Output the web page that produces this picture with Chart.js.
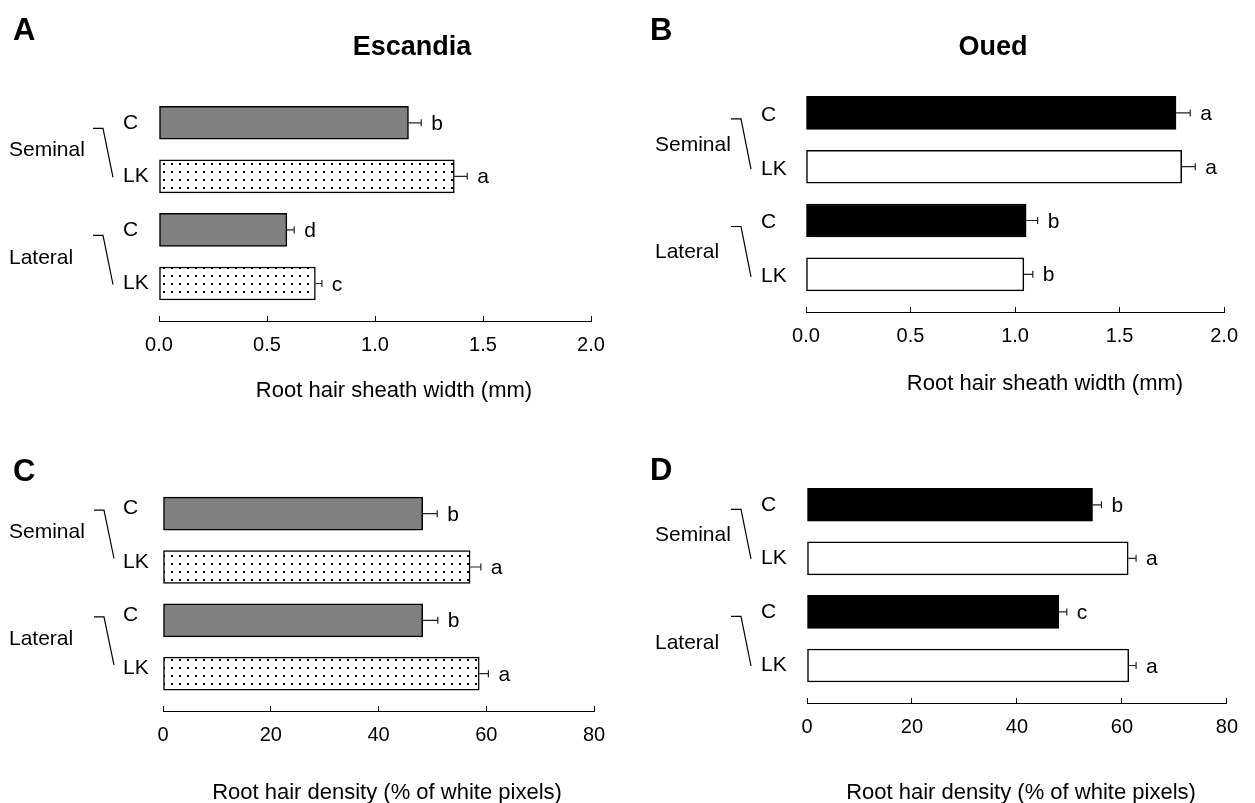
<!DOCTYPE html>
<html>
<head>
<meta charset="utf-8">
<script src="https://cdn.jsdelivr.net/npm/chart.js@4.4.0/dist/chart.umd.min.js"></script>
<style>
  html, body { margin: 0; padding: 0; background: #fff; }
  #wrap { position: relative; width: 1255px; height: 803px; }
  #wrap canvas { position: absolute; left: 0; top: 0; }
</style>
</head>
<body>
<div id="wrap">
  <canvas id="chartA" width="1255" height="803"></canvas>
  <canvas id="chartB" width="1255" height="803"></canvas>
  <canvas id="chartC" width="1255" height="803"></canvas>
  <canvas id="chartD" width="1255" height="803"></canvas>
</div>
<script>
const treatments = ['C', 'LK', 'C', 'LK'];
const rootTypes = ['Seminal', 'Lateral'];

// root hair sheath width (mm)
const escSheath = [1.155, 1.367, 0.592, 0.724];
const escSheathErr = [0.059, 0.060, 0.034, 0.030];
const escSheathSig = ['b', 'a', 'd', 'c'];

const ouedSheath = [1.770, 1.797, 1.053, 1.042];
const ouedSheathErr = [0.068, 0.065, 0.055, 0.043];
const ouedSheathSig = ['a', 'a', 'b', 'b'];

// root hair density (% of white pixels)
const escDensity = [48.2, 57.0, 48.2, 58.7];
const escDensityErr = [2.7, 2.0, 2.8, 1.7];
const escDensitySig = ['b', 'a', 'b', 'a'];

const ouedDensity = [54.4, 61.2, 48.0, 61.3];
const ouedDensityErr = [1.7, 1.5, 1.5, 1.4];
const ouedDensitySig = ['b', 'a', 'c', 'a'];

// axis min, max, step
const sheathRange = [0, 2.0, 0.5];
const densityRange = [0, 80, 20];

const FONT = '"Liberation Sans", Arial, sans-serif';
Chart.defaults.font.family = FONT;
Chart.defaults.color = '#000';

// dotted fill tile
const tile = document.createElement('canvas');
tile.width = 8; tile.height = 8;
const tg = tile.getContext('2d');
tg.fillStyle = '#fff';
tg.fillRect(0, 0, 8, 8);
tg.fillStyle = '#000';
tg.fillRect(3, 3, 2, 2);

function makePanel(id, cfg) {
  const canvas = document.getElementById(id);
  const dots = canvas.getContext('2d').createPattern(tile, 'repeat');
  const fills = cfg.dark ? ['#000', '#fff'] : ['#808080', dots];

  const extras = {
    id: 'extras',
    afterDatasetsDraw(chart) {
      const { ctx, scales: { x, y } } = chart;
      ctx.save();
      ctx.fillStyle = '#000';

      // error bars and letters
      cfg.values.forEach((v, i) => {
        const py = y.getPixelForValue(i + 1);
        const x0 = x.getPixelForValue(v);
        const x1 = x.getPixelForValue(v + cfg.err[i]);
        ctx.strokeStyle = '#222';
        ctx.lineWidth = 1.2;
        ctx.beginPath();
        ctx.moveTo(x0, py); ctx.lineTo(x1, py);
        ctx.moveTo(x1, py - 3.5); ctx.lineTo(x1, py + 3.5);
        ctx.stroke();
        ctx.font = '21px ' + FONT;
        ctx.textAlign = 'left';
        ctx.textBaseline = 'alphabetic';
        ctx.fillText(cfg.sig[i], x1 + 10, py + 7);
      });

      // root type labels with brackets
      rootTypes.forEach((name, g) => {
        const yc = y.getPixelForValue(2 * g + 1);
        const yl = y.getPixelForValue(2 * g + 2);
        ctx.font = '21px ' + FONT;
        ctx.textAlign = 'left';
        ctx.textBaseline = 'middle';
        ctx.fillText(name, cfg.groupX, (yc + yl) / 2 + cfg.groupDy);
        ctx.strokeStyle = '#000';
        ctx.lineWidth = 1.2;
        ctx.beginPath();
        ctx.moveTo(cfg.bx, yc + cfg.bTop);
        ctx.lineTo(cfg.bx + 10, yc + cfg.bTop);
        ctx.lineTo(cfg.bx + 20, yl + cfg.bBot);
        ctx.stroke();
      });

      // panel letter, title, axis title
      ctx.textBaseline = 'alphabetic';
      ctx.textAlign = 'left';
      ctx.font = 'bold 31px ' + FONT;
      ctx.fillText(cfg.letter, cfg.letterX, cfg.letterY);
      if (cfg.title) {
        ctx.textAlign = 'center';
        ctx.font = 'bold 27px ' + FONT;
        ctx.fillText(cfg.title, cfg.titleX, cfg.titleY);
      }
      ctx.textAlign = 'center';
      ctx.font = '22px ' + FONT;
      ctx.fillText(cfg.axisTitle, cfg.axisX, cfg.axisY);
      ctx.restore();
    }
  };

  return new Chart(canvas, {
    type: 'bar',
    data: {
      datasets: [{
        data: cfg.values.map((v, i) => ({ x: v, y: i + 1 })),
        backgroundColor: treatments.map((t, i) => fills[i % 2]),
        borderColor: '#000',
        borderWidth: 1.5,
        borderSkipped: false,
        barThickness: 33
      }]
    },
    options: {
      indexAxis: 'y',
      responsive: false,
      animation: false,
      layout: {
        padding: {
          left: cfg.labelLeft,
          right: 1255 - cfg.right,
          top: cfg.top,
          bottom: 803 - cfg.bottom - 40
        }
      },
      plugins: {
        legend: { display: false },
        tooltip: { enabled: false }
      },
      scales: {
        x: {
          type: 'linear',
          position: 'bottom',
          offset: false,
          min: cfg.range[0],
          max: cfg.range[1],
          ticks: {
            stepSize: cfg.range[2],
            padding: 17,
            maxRotation: 0,
            autoSkip: false,
            font: { size: 20 },
            callback: cfg.fmt
          },
          grid: {
            display: true,
            offset: false,
            drawOnChartArea: false,
            drawTicks: true,
            tickLength: -5,
            color: '#000',
            lineWidth: 1
          },
          border: { display: true, color: '#000', width: 1 },
          afterFit: s => { s.height = 40; }
        },
        y: {
          type: 'linear',
          position: 'left',
          offset: false,
          reverse: true,
          min: 0.5,
          max: 4.7,
          ticks: {
            stepSize: 1,
            crossAlign: 'far',
            labelOffset: cfg.labelDy,
            autoSkip: false,
            font: { size: 21 },
            callback: v => Number.isInteger(v) ? treatments[v - 1] : ''
          },
          grid: { display: false, offset: false },
          border: { display: false },
          afterFit: s => { s.width = cfg.left - cfg.labelLeft; }
        }
      }
    },
    plugins: [extras]
  });
}

makePanel('chartA', {
  values: escSheath, err: escSheathErr, sig: escSheathSig, dark: false,
  range: sheathRange, fmt: v => Number(v).toFixed(1),
  labelLeft: 123, left: 159, right: 591, top: 96, bottom: 321, labelDy: 0,
  groupX: 9, groupDy: 1, bx: 93, bTop: 5.5, bBot: 1,
  letter: 'A', letterX: 13, letterY: 40,
  title: 'Escandia', titleX: 412, titleY: 55,
  axisTitle: 'Root hair sheath width (mm)', axisX: 394, axisY: 397
});

makePanel('chartB', {
  values: ouedSheath, err: ouedSheathErr, sig: ouedSheathSig, dark: true,
  range: sheathRange, fmt: v => Number(v).toFixed(1),
  labelLeft: 761, left: 806, right: 1239, top: 86, bottom: 312, labelDy: 2,
  groupX: 655, groupDy: 5, bx: 731, bTop: 6, bBot: 2.5,
  letter: 'B', letterX: 650, letterY: 40,
  title: 'Oued', titleX: 993, titleY: 55,
  axisTitle: 'Root hair sheath width (mm)', axisX: 1045, axisY: 389.5
});

makePanel('chartC', {
  values: escDensity, err: escDensityErr, sig: escDensitySig, dark: false,
  range: densityRange, fmt: v => v,
  labelLeft: 123, left: 163, right: 594, top: 487, bottom: 711, labelDy: -5,
  groupX: 9, groupDy: -8, bx: 94, bTop: -3.5, bBot: -8.5,
  letter: 'C', letterX: 13, letterY: 481,
  title: null,
  axisTitle: 'Root hair density (% of white pixels)', axisX: 387, axisY: 799
});

makePanel('chartD', {
  values: ouedDensity, err: ouedDensityErr, sig: ouedDensitySig, dark: true,
  range: densityRange, fmt: v => v,
  labelLeft: 761, left: 807, right: 1239, top: 478, bottom: 703, labelDy: 0,
  groupX: 655, groupDy: 4, bx: 731, bTop: 4.5, bBot: 0.5,
  letter: 'D', letterX: 650, letterY: 480,
  title: null,
  axisTitle: 'Root hair density (% of white pixels)', axisX: 1021, axisY: 799
});
</script>
</body>
</html>
